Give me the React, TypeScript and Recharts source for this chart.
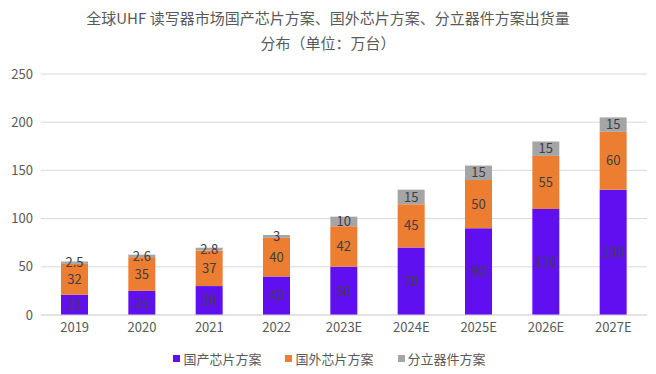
import { Bar, BarChart, CartesianGrid, LabelList, Legend, XAxis, YAxis } from "recharts"

const YEARS = ["2019", "2020", "2021", "2022", "2023E", "2024E", "2025E", "2026E", "2027E"]
const DOMESTIC = [21, 25, 30, 40, 50, 70, 90, 110, 130]
const FOREIGN = [32, 35, 37, 40, 42, 45, 50, 55, 60]
const DISCRETE = [2.5, 2.6, 2.8, 3, 10, 15, 15, 15, 15]
const Y_TICKS = [0, 50, 100, 150, 200, 250]

const SERIES = [
  { key: "domestic", name: "国产芯片方案", color: "#600FF0" },
  { key: "foreign", name: "国外芯片方案", color: "#ED7D31" },
  { key: "discrete", name: "分立器件方案", color: "#A5A5A5" },
]

const FONT = "'Noto Sans CJK SC', 'Noto Sans', sans-serif"
const TEXT = "#595959"

const data = YEARS.map((year, i) => ({
  year,
  domestic: DOMESTIC[i],
  foreign: FOREIGN[i],
  discrete: DISCRETE[i],
}))

const labelStyle = { fill: "#404040", fontSize: 13, fontFamily: FONT }

const LegendBox = () => (
  <div
    style={{
      display: "flex",
      justifyContent: "center",
      gap: 24,
      paddingTop: 10,
      paddingLeft: 12,
      fontSize: 13,
      color: TEXT,
      fontFamily: FONT,
    }}
  >
    {SERIES.map((s) => (
      <span key={s.key} style={{ display: "flex", alignItems: "center" }}>
        <span style={{ width: 7, height: 7, background: s.color, marginRight: 3 }} />
        {s.name}
      </span>
    ))}
  </div>
)

export default function App() {
  return (
    <div style={{ position: "relative", width: 656, height: 374, fontFamily: FONT, background: "#fff" }}>
      <style>{"body{margin:0}"}</style>
      <div
        style={{
          position: "absolute",
          top: 5,
          left: 0,
          width: 656,
          textAlign: "center",
          color: TEXT,
          fontSize: 15,
          lineHeight: "25px",
        }}
      >
        全球UHF 读写器市场国产芯片方案、国外芯片方案、分立器件方案出货量
        <br />
        分布（单位：万台）
      </div>
      <BarChart
        width={656}
        height={374}
        data={data}
        margin={{ top: 74, right: 9, left: 0, bottom: 8 }}
      >
        <CartesianGrid vertical={false} stroke="#d9d9d9" />
        <XAxis
          dataKey="year"
          tickLine={false}
          axisLine={{ stroke: "#d9d9d9" }}
          tick={{ fill: TEXT, fontSize: 13, fontFamily: FONT }}
          height={24}
        />
        <YAxis
          domain={[0, 250]}
          ticks={Y_TICKS}
          width={41}
          tickLine={false}
          axisLine={false}
          tick={{ fill: TEXT, fontSize: 13, fontFamily: FONT }}
        />
        <Legend height={27} content={<LegendBox />} />
        {SERIES.map((s) => (
          <Bar
            key={s.key}
            dataKey={s.key}
            name={s.name}
            stackId="a"
            fill={s.color}
            barSize={27}
            isAnimationActive={false}
          >
            <LabelList dataKey={s.key} position="center" style={labelStyle} />
          </Bar>
        ))}
      </BarChart>
    </div>
  )
}
